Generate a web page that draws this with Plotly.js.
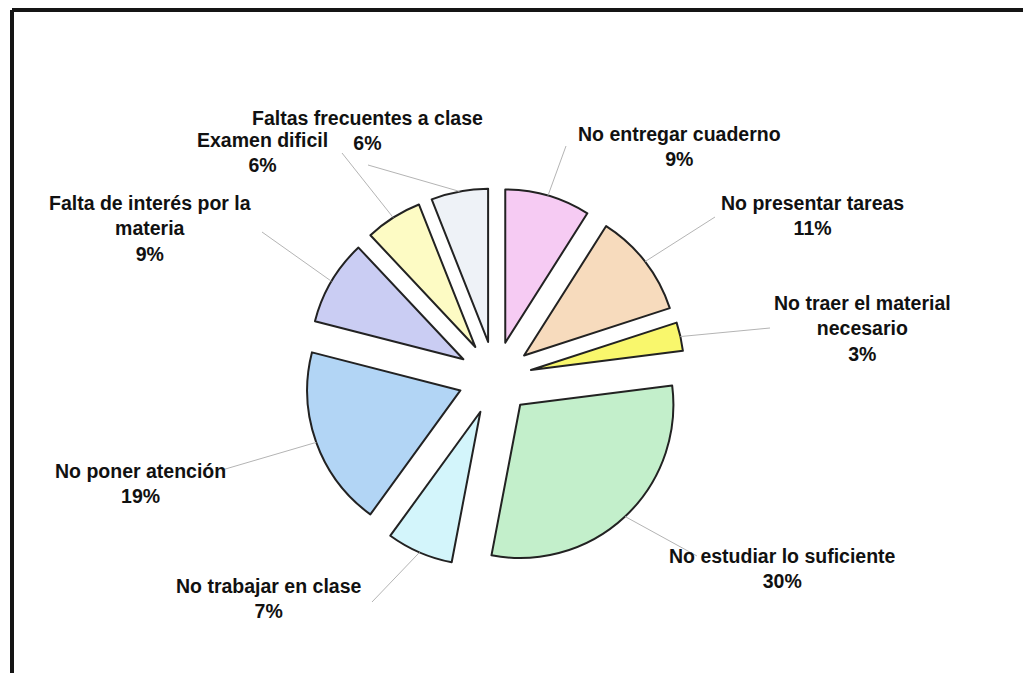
<!DOCTYPE html>
<html>
<head>
<meta charset="utf-8">
<script src="https://cdn.plot.ly/plotly-3.0.1.min.js"></script>
<style>html,body{margin:0;padding:0;background:#fff;}#chart{width:1023px;height:673px;}</style>
</head>
<body>
<div id="chart"></div>
<script>
// ---- data ----
const categories = [
  "No entregar cuaderno",
  "No presentar tareas",
  "No traer el material<br>necesario",
  "No estudiar lo suficiente",
  "No trabajar en clase",
  "No poner atención",
  "Falta de interés por la<br>materia",
  "Examen dificil",
  "Faltas frecuentes a clase"
];
const values = [9, 11, 3, 30, 7, 19, 9, 6, 6];
const colors = ["#f6cbf3", "#f7dbbd", "#f9f76c", "#c3efcb", "#d3f5fb", "#b2d5f5", "#cacdf3", "#fdfbc4", "#eef2f7"];

// ---- layout constants (positions, px) ----
const W = 1023, H = 673;
const pieCx = 495, pieCy = 378, pieHalf = 190, pullFrac = 0.24;
// label text centres [x, y] and leader-line end points [x, y]
const labelPos = [[679,146],[812,216],[862,328],[782,568],[268,598],[140,483],[150,228],[262,153],[367,130]];
const lineEnd  = [[566,146],[715,217],[770,328],[697,556],[372,602],[222,470],[262,232],[342,153],[368,165]];

const px = x => x / W;
const py = y => 1 - y / H;

const total = values.reduce((a, b) => a + b, 0);
const reach = pieHalf; // r*(1+pull) equals half domain
let cum = 0;
const shapes = [];
const annotations = [];
values.forEach((v, i) => {
  const mid = (cum + v / 2) / total * 2 * Math.PI;
  cum += v;
  const sx = pieCx + reach * Math.sin(mid);
  const sy = pieCy - reach * Math.cos(mid);
  shapes.push({type: "line", xref: "paper", yref: "paper",
    x0: px(sx), y0: py(sy), x1: px(lineEnd[i][0]), y1: py(lineEnd[i][1]),
    line: {color: "#b4b4b4", width: 1}});
  annotations.push({xref: "paper", yref: "paper", x: px(labelPos[i][0]), y: py(labelPos[i][1]),
    xanchor: "center", yanchor: "middle", align: "center", showarrow: false,
    text: "<b>" + categories[i] + "<br>" + v + "%</b>",
    font: {family: "Liberation Sans, Arial, sans-serif", size: 19.5, color: "#111"}});
});
// frame (top and left edges of the scanned box)
shapes.push({type: "line", xref: "paper", yref: "paper", x0: px(12), y0: py(10), x1: px(1030), y1: py(10), line: {color: "#151515", width: 4}});
shapes.push({type: "line", xref: "paper", yref: "paper", x0: px(12), y0: py(10), x1: px(12), y1: py(680), line: {color: "#151515", width: 4}});

const trace = {
  type: "pie",
  labels: categories,
  values: values,
  sort: false,
  direction: "clockwise",
  rotation: 0,
  pull: values.map(() => pullFrac),
  textinfo: "none",
  marker: {colors: colors, line: {color: "#222", width: 2}},
  domain: {x: [px(pieCx - pieHalf), px(pieCx + pieHalf)], y: [py(pieCy + pieHalf), py(pieCy - pieHalf)]}
};

Plotly.newPlot("chart", [trace], {
  width: W, height: H,
  margin: {l: 0, r: 0, t: 0, b: 0},
  showlegend: false,
  paper_bgcolor: "#fff",
  shapes: shapes,
  annotations: annotations
}, {displayModeBar: false, staticPlot: true});
</script>
</body>
</html>
